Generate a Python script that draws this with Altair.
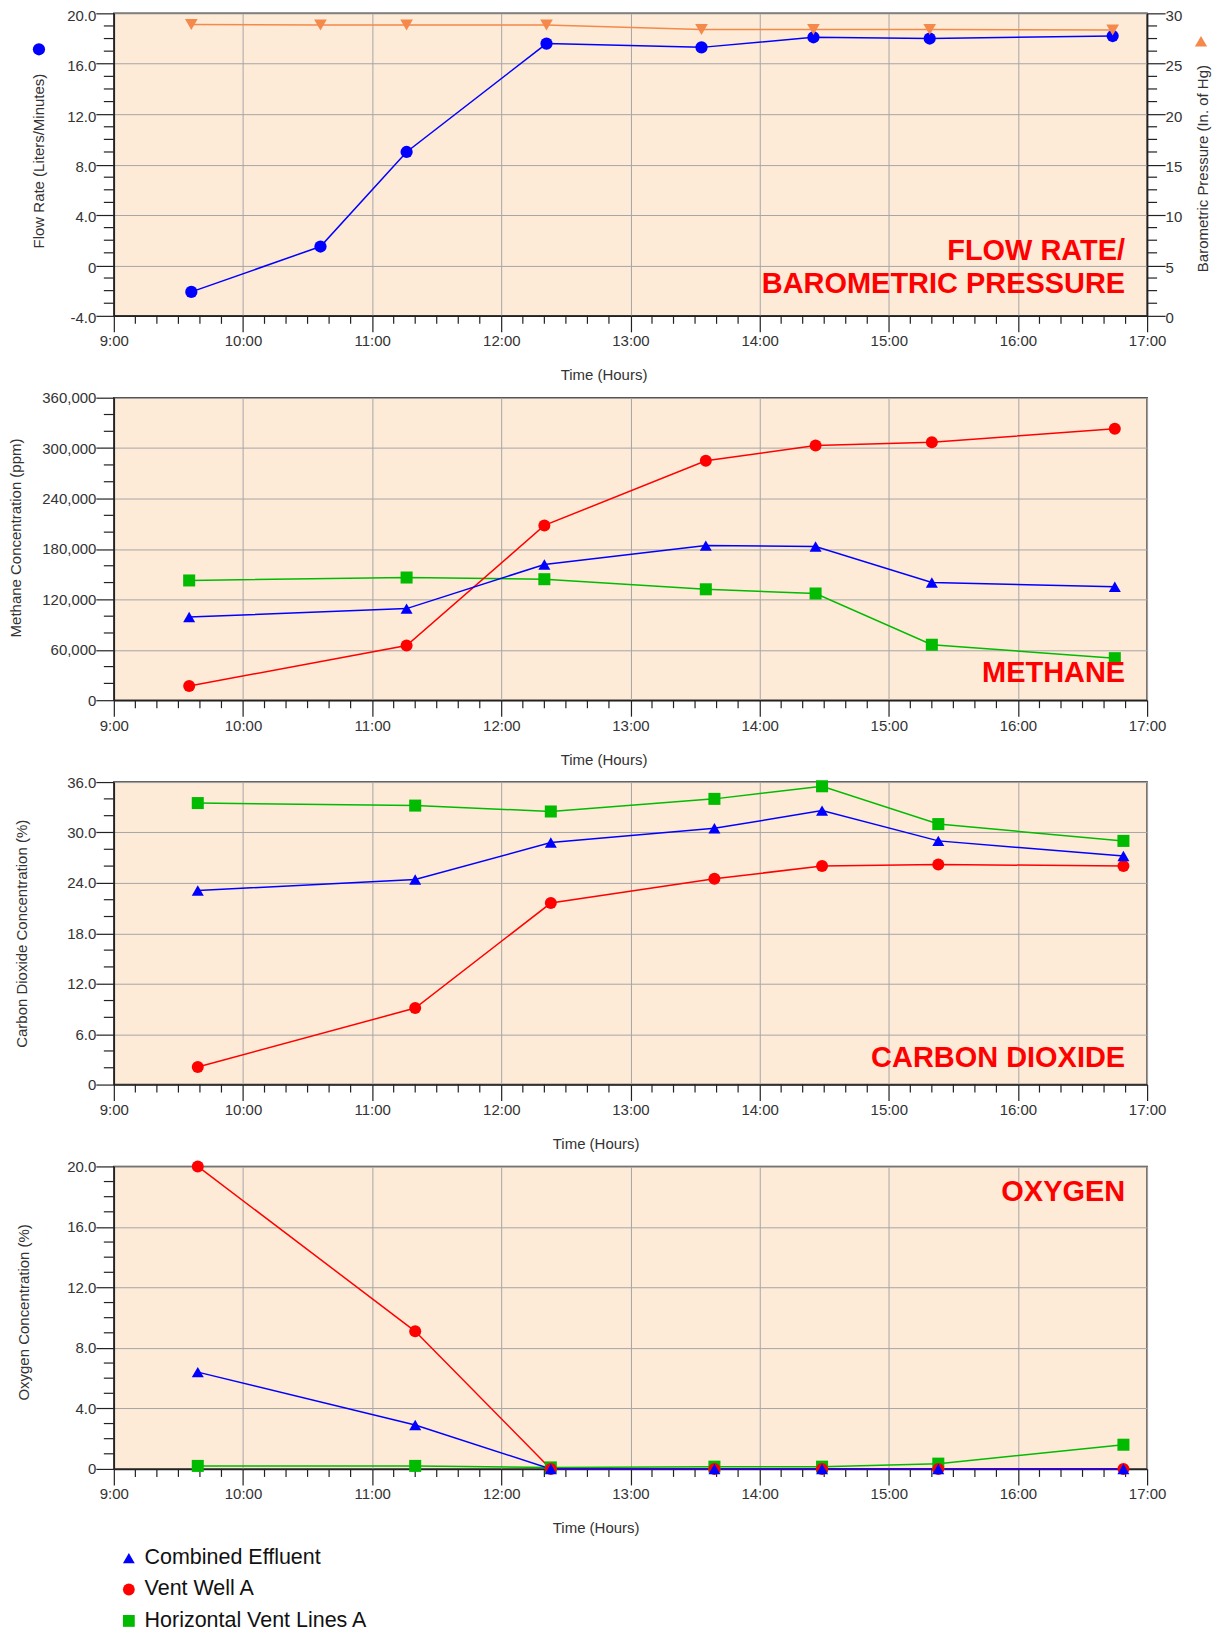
import altair as alt
import pandas as pd

DATE = "2000-01-01T"
FONT = "Liberation Sans"

series_names = ["Combined Effluent", "Vent Well A", "Horizontal Vent Lines A"]
series_colors = ["#0000FF", "#FF0000", "#00BB00"]
series_shapes = ["triangle-up", "circle", "square"]

# Panel 1: flow rate / barometric pressure
flow_times = ["09:36", "10:36", "11:16", "12:21", "13:33", "14:25", "15:19", "16:44"]
flow_rate = [-2.1, 1.5, 9.0, 17.6, 17.3, 18.1, 18.0, 18.2]
baro_pressure = [28.9, 28.85, 28.85, 28.85, 28.4, 28.4, 28.4, 28.35]

# Panel 2: methane (ppm)
methane_times = ["09:35", "11:16", "12:20", "13:35", "14:26", "15:20", "16:45"]
methane_combined = [99000, 109000, 161500, 184000, 183000, 140000, 135000]
methane_vent = [17000, 65000, 208000, 285000, 303000, 307000, 323000]
methane_horizontal = [142500, 146000, 144000, 132000, 127000, 66000, 50000]

# Panel 3: carbon dioxide (%)
co2_times = ["09:39", "11:20", "12:23", "13:39", "14:29", "15:23", "16:49"]
co2_combined = [23.1, 24.4, 28.8, 30.5, 32.6, 29.0, 27.2]
co2_vent = [2.1, 9.1, 21.6, 24.5, 26.0, 26.2, 26.0]
co2_horizontal = [33.5, 33.2, 32.5, 34.0, 35.5, 31.0, 29.0]

# Panel 4: oxygen (%)
o2_times = ["09:39", "11:20", "12:23", "13:39", "14:29", "15:23", "16:49"]
o2_combined = [6.4, 2.9, 0.0, 0.0, 0.0, 0.0, 0.0]
o2_vent = [20.0, 9.1, 0.0, 0.0, 0.0, 0.0, 0.0]
o2_horizontal = [0.2, 0.2, 0.1, 0.15, 0.15, 0.35, 1.6]

annotations = ["FLOW RATE/|BAROMETRIC PRESSURE", "METHANE", "CARBON DIOXIDE", "OXYGEN"]

W, H = 1035, 303
ORANGE = "#F4894B"
BLUE = "#0000FF"
TICK = "#222222"

# minor tick positions on the time axis (every 10 minutes, not on the hour)
minor_times = [DATE + f"{h:02d}:{m:02d}:00" for h in range(9, 17) for m in (10, 20, 30, 40, 50)]


def to_dt(times):
    return [DATE + t + ":00" for t in times]


def xscale():
    return alt.Scale(domain=[DATE + "09:00:00", DATE + "17:00:00"], nice=False)


def time_axis(title_x):
    return alt.Axis(
        title="Time (Hours)", format="%-H:%M", tickCount=8, tickSize=16,
        labelOverlap=False, labelFlush=False, labelPadding=2,
        titleX=title_x, titleY=59, titleBaseline="middle", titleAlign="center", titleAngle=0,
    )


def y_axis(title, values, fmt, title_x, title_y, orient="left", grid=True, label_offset=0):
    return alt.Axis(
        title=title, orient=orient, values=values, labelExpr=fmt, grid=grid,
        tickSize=18, labelPadding=0, labelOverlap=False, labelFlush=False, labelOffset=label_offset,
        titleX=title_x, titleY=title_y, titleAngle=270, titleBaseline="middle", titleAlign="center",
    )


def annotation(text, x, y):
    return alt.Chart(pd.DataFrame({"label": [text]})).mark_text(
        align="right", baseline="alphabetic", font=FONT, fontSize=29, fontWeight="bold",
        color="#FF0000", lineBreak="|", lineHeight=33,
    ).encode(text="label:N", x=alt.value(x), y=alt.value(y))


def glyph(name, shape, color, size, x, y):
    return alt.Chart(pd.DataFrame({"glyph": [name]})).mark_point(
        shape=shape, filled=True, color=color, opacity=1, size=size
    ).encode(x=alt.value(x), y=alt.value(y))


def x_minor(xenc):
    return alt.Chart(pd.DataFrame({"time": minor_times})).mark_rule(
        color=TICK, strokeWidth=1.2
    ).encode(x=xenc, y=alt.value(H), y2=alt.value(H + 8))


def y_minor(values, field, yenc, right=False):
    x0, x1 = (W, W + 10) if right else (-10, 0)
    return alt.Chart(pd.DataFrame({field: values})).mark_rule(
        color=TICK, strokeWidth=1.2
    ).encode(y=yenc, x=alt.value(x0), x2=alt.value(x1))


LEFT = 114  # page x of the plot areas' left edge

# ---------- Panel 1 ----------
flow_df = pd.DataFrame({"time": to_dt(flow_times), "flow": flow_rate, "baro": baro_pressure})
x1 = alt.X("time:T", scale=xscale(), axis=time_axis(604.5 - LEFT))
flow_fmt = "datum.value === 0 ? '0' : (datum.value < 0 ? '-' + format(-datum.value, '.1f') : format(datum.value, '.1f'))"
flow_y = alt.Y("flow:Q", scale=alt.Scale(domain=[-4, 20], nice=False, zero=False),
               axis=y_axis("Flow Rate (Liters/Minutes)", [-4, 0, 4, 8, 12, 16, 20], flow_fmt,
                           39 - LEFT, 147.5, label_offset=2))
baro_y = alt.Y("baro:Q", scale=alt.Scale(domain=[0, 30], nice=False, zero=False),
               axis=y_axis("Barometric Pressure (In. of Hg)", [0, 5, 10, 15, 20, 25, 30],
                           "format(datum.value, 'd')", 1204.6 - LEFT - W, 155, orient="right",
                           grid=False, label_offset=2))
flow_layer = alt.layer(
    y_minor([v for v in range(-4, 21) if v % 4 != 0], "flow", flow_y),
    alt.Chart(flow_df).mark_line(color=BLUE, strokeWidth=1.5).encode(x=x1, y=flow_y),
    alt.Chart(flow_df).mark_point(shape="circle", filled=True, color=BLUE, opacity=1, size=150).encode(x=x1, y=flow_y),
)
baro_layer = alt.layer(
    y_minor([i * 1.25 for i in range(25) if (i * 1.25) % 5 != 0], "baro", baro_y, right=True),
    alt.Chart(flow_df).mark_line(color=ORANGE, strokeWidth=1.5).encode(x=x1, y=baro_y),
    alt.Chart(flow_df).mark_point(shape="triangle-down", filled=True, color=ORANGE, opacity=1, size=160).encode(x=x1, y=baro_y),
)
p1 = alt.layer(
    x_minor(x1),
    flow_layer, baro_layer,
    glyph("flow", "circle", BLUE, 150, 39 - LEFT, 36),
    glyph("baro", "triangle-up", ORANGE, 150, 1203 - LEFT, 28),
    annotation(annotations[0], 1127 - LEFT, 246.7),
).resolve_scale(y="independent").properties(width=W, height=H)

# one legend definition shared by all gas panels (merged into a single legend)
legend = alt.Legend(
    title=None, orient="none", legendX=4.3, legendY=1536.5, direction="vertical",
    labelFont=FONT, labelFontSize=21.5, labelColor="#111111", labelLimit=500, labelOffset=5,
    symbolSize=140, symbolStrokeWidth=0, rowPadding=8.5, padding=0,
)


# ---------- gas panels ----------
def gas_df(times, combined, vent, horizontal):
    rows = []
    for name, vals in [(series_names[2], horizontal), (series_names[1], vent), (series_names[0], combined)]:
        for t, v in zip(times, vals):
            rows.append({"time": DATE + t + ":00", "series": name, "value": v})
    return pd.DataFrame(rows)


def gas_panel(times, combined, vent, horizontal, y_title, y_domain, major_values, minor_values, fmt,
              title_x, title_y, time_title_x, ann, ann_y):
    df = gas_df(times, combined, vent, horizontal)
    xenc = alt.X("time:T", scale=xscale(), axis=time_axis(time_title_x))
    yenc = alt.Y("value:Q", scale=alt.Scale(domain=y_domain, nice=False, zero=False),
                 axis=y_axis(y_title, major_values, fmt, title_x, title_y))
    lines = [
        alt.Chart(df).transform_filter(alt.datum.series == name).mark_line(
            color=color, strokeWidth=1.5
        ).encode(x=xenc, y=yenc)
        for name, color in reversed(list(zip(series_names, series_colors)))
    ]
    pts = alt.Chart(df).mark_point(filled=True, opacity=1, size=145).encode(
        x=xenc, y=yenc,
        color=alt.Color("series:N", scale=alt.Scale(domain=series_names, range=series_colors), legend=legend),
        shape=alt.Shape("series:N", scale=alt.Scale(domain=series_names, range=series_shapes), legend=legend),
    )
    return alt.layer(
        x_minor(xenc), y_minor(minor_values, "value", yenc),
        *lines, pts, annotation(ann, 1127 - LEFT, ann_y),
    ).properties(width=W, height=H)


dec_fmt = "datum.value === 0 ? '0' : format(datum.value, '.1f')"

p2 = gas_panel(methane_times, methane_combined, methane_vent, methane_horizontal,
               "Methane Concentration (ppm)", [0, 360000],
               list(range(0, 360001, 60000)), [v for v in range(0, 360001, 20000) if v % 60000 != 0],
               "format(datum.value, ',')", 16 - LEFT, 140, 604.5 - LEFT, annotations[1], 285)

p3 = gas_panel(co2_times, co2_combined, co2_vent, co2_horizontal,
               "Carbon Dioxide Concentration (%)", [0, 36],
               list(range(0, 37, 6)), [v for v in range(0, 37, 2) if v % 6 != 0],
               dec_fmt, 21.7 - LEFT, 151.5, 596.6 - LEFT, annotations[2], 285.7)

p4 = gas_panel(o2_times, o2_combined, o2_vent, o2_horizontal,
               "Oxygen Concentration (%)", [0, 20],
               list(range(0, 21, 4)), [v for v in range(0, 21) if v % 4 != 0],
               dec_fmt, 23.3 - LEFT, 145.7, 596.6 - LEFT, annotations[3], 34.7)

chart = alt.vconcat(p1, p2, p3, p4, spacing=82, bounds="flush").properties(
    padding={"left": 0, "top": -2, "right": 0, "bottom": 0}
).configure(font=FONT).configure_view(
    fill="#FDEBD7", stroke="#333333", strokeWidth=1.5
).configure_axis(
    labelFont=FONT, labelFontSize=15, labelColor="#333333",
    titleFont=FONT, titleFontSize=15, titleColor="#333333", titleFontWeight="normal",
    domainColor=TICK, domainWidth=1.5, tickColor=TICK, tickWidth=1.2,
    gridColor="#A6A6A6", gridWidth=1,
)

chart.save("out.html", embed_options={"renderer": "svg", "actions": False})
